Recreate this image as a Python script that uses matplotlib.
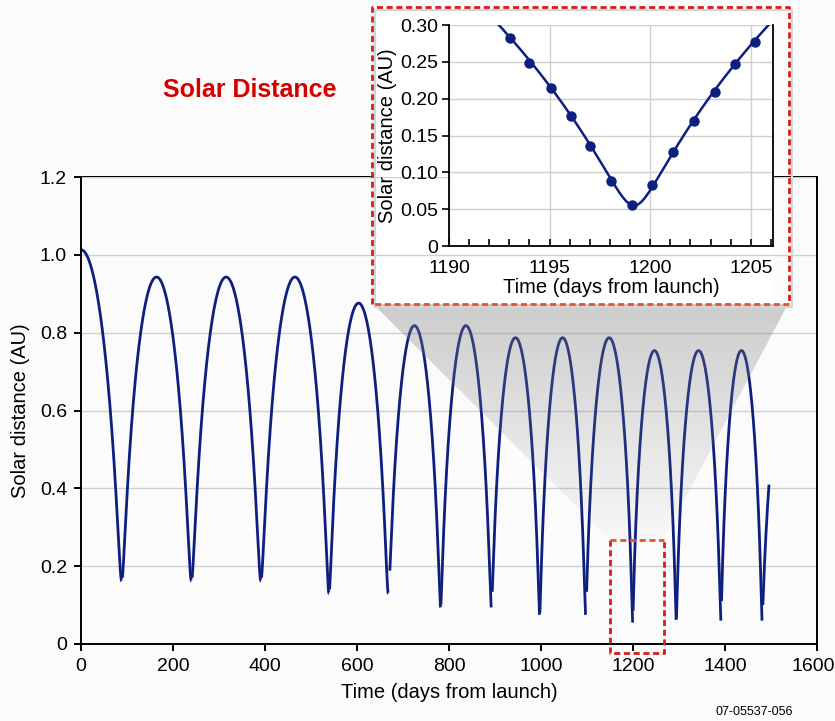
"""Solar distance vs time from launch, with a zoomed inset around day 1200."""

import matplotlib

matplotlib.use("Agg")
import matplotlib.pyplot as plt
import numpy as np
from matplotlib.patches import Polygon, Rectangle
from matplotlib.transforms import Affine2D, ScaledTranslation

plt.rcParams["font.family"] = ["Liberation Sans", "DejaVu Sans"]

# ---- data ------------------------------------------------------------------
launch_au = 1.013                      # distance at day 0 (aphelion-like start)
peri_days = [88.4, 240, 391, 539, 668, 781.6, 892, 997, 1097, 1199.2, 1294, 1391, 1480.5]
peri_au = [0.162, 0.162, 0.162, 0.130, 0.130, 0.094, 0.094, 0.075, 0.075, 0.055, 0.062, 0.060, 0.060]
restart_au = [0.17, 0.17, 0.17, 0.14, 0.188, 0.10, 0.134, 0.08, 0.134, 0.085, 0.065, 0.11, 0.10]
apo_au = [0.943, 0.943, 0.943, 0.876, 0.818, 0.818, 0.787, 0.787, 0.787, 0.754, 0.754, 0.754, 0.754]
end_day, end_au = 1495.7, 0.41

inset_days = [1193.05, 1194.0, 1195.05, 1196.05, 1197.0, 1198.05, 1199.1,
              1200.1, 1201.15, 1202.15, 1203.2, 1204.2, 1205.2]
inset_au = [0.283, 0.249, 0.215, 0.177, 0.136, 0.088, 0.055,
            0.083, 0.128, 0.170, 0.209, 0.247, 0.277]

main_yticks = [0, 0.2, 0.4, 0.6, 0.8, 1.0, 1.2]
main_ylabels = ["0", "0.2", "0.4", "0.6", "0.8", "1.0", "1.2"]
inset_yticks = [0, 0.05, 0.10, 0.15, 0.20, 0.25, 0.30]
inset_ylabels = ["0", "0.05", "0.10", "0.15", "0.20", "0.25", "0.30"]

NAVY = "#0f1f7e"
RED = "#d81c1c"
ORANGE = "#e2532f"
GRID = "#cfcfcf"

W, H = 835, 721


def half_orbit(q, Q, e_anom):
    """Keplerian r and mean-anomaly fraction for eccentric anomaly values."""
    a = (Q + q) / 2
    e = (Q - q) / (Q + q)
    r = a * (1 - e * np.cos(e_anom))
    frac = (e_anom - e * np.sin(e_anom)) / (2 * np.pi)
    return frac, r


def lobe(t0, t1, q0, Q, q1, n=1500):
    """One orbit between two perihelia: rise from q0 to Q, fall to q1."""
    f1, r1 = half_orbit(q0, Q, np.linspace(0, np.pi, n))
    f2, r2 = half_orbit(q1, Q, np.linspace(np.pi, 2 * np.pi, n)[1:])
    frac = np.concatenate([f1, f2])
    r = np.concatenate([r1, r2])
    return t0 + frac * (t1 - t0), r


# ---- build the main curve as separate branches -----------------------------
branches = []
f, r = half_orbit(peri_au[0], launch_au, np.linspace(np.pi, 2 * np.pi, 1500))
branches.append(((f - 0.5) / 0.5 * peri_days[0], r))
for i in range(len(peri_days) - 1):
    t, r = lobe(peri_days[i], peri_days[i + 1], peri_au[i], apo_au[i], peri_au[i + 1])
    # the rising branch starts a little above the true minimum (coarse sampling)
    start = np.argmax((r >= restart_au[i]) & (t > peri_days[i]))
    branches.append((t[start:], r[start:]))
# final partial rise, scaled so it ends at the last plotted point
f, r = half_orbit(peri_au[-1], apo_au[-1], np.linspace(0, np.pi, 1500))
f_end = np.interp(end_au, r, f)
keep = f <= f_end
t = peri_days[-1] + f[keep] / f_end * (end_day - peri_days[-1])
r = r[keep]
start = np.argmax(r >= restart_au[-1])
branches.append((t[start:], r[start:]))

# ---- figure -----------------------------------------------------------------
fig = plt.figure(figsize=(W / 100, H / 100), dpi=100, facecolor="#fbfbfb")


def px_rect(left, top, right, bottom):
    return [left / W, 1 - bottom / H, (right - left) / W, (bottom - top) / H]


px_to_disp = Affine2D().scale(1, -1).translate(0, H)

ax = fig.add_axes(px_rect(81, 177, 817, 644))
ax.set_facecolor("#fbfbfb")
for t, r in branches:
    ax.plot(t, r, color=NAVY, lw=2.0, zorder=2, solid_capstyle="butt")

ax.set_xlim(0, 1600)
ax.set_ylim(0, 1.2)
ax.set_xticks(range(0, 1601, 200))
ax.set_yticks(main_yticks)
ax.set_yticklabels(main_ylabels)
ax.tick_params(labelsize=14, length=5, width=1.4, direction="out", pad=5)
ax.yaxis.grid(True, color=GRID, lw=1.0)
for s in ("left", "bottom", "right"):
    ax.spines[s].set_linewidth(1.4)
ax.spines["top"].set_visible(False)
ax.set_xlabel("Time (days from launch)", fontsize=14.5, labelpad=6)
ax.set_ylabel("Solar distance (AU)", fontsize=14.5, labelpad=7)
# keep the last x label inside the canvas
last = ax.get_xticklabels()[-1]
last.set_transform(last.get_transform() + ScaledTranslation(-0.04, 0, fig.dpi_scale_trans))

# top border of the plot box, partly hidden by the inset frame
ax.plot([0, 1600], [1.2, 1.2], color="black", lw=1.4, clip_on=False, zorder=1.1)
ax.add_patch(Rectangle((372, 7), 773 - 372, 297, transform=px_to_disp,
                       facecolor="white", edgecolor="none", clip_on=False, zorder=1.2))

# zoom box around the perihelion near day 1200
zb_x0, zb_x1, zb_y0, zb_y1 = 1149, 1267, -0.023, 0.267
ax.plot([zb_x0, zb_x0, zb_x1, zb_x1], [zb_y1, zb_y0, zb_y0, zb_y1], color=RED,
        lw=2.0, ls=(0, (2.2, 1.3)), clip_on=False, zorder=5)
ax.plot([zb_x0, zb_x1], [zb_y1, zb_y1], color=ORANGE, lw=2.0,
        ls=(0, (2.2, 1.3)), clip_on=False, zorder=5)

# grey funnel from zoom box up to the inset frame (drawn over the curve)
to_data = ax.transData.inverted()
top_l = to_data.transform(px_to_disp.transform((373, 304)))
top_r = to_data.transform(px_to_disp.transform((788, 304)))
funnel = Polygon([top_l, top_r, (zb_x1 - 2, zb_y1), (zb_x0 + 2, zb_y1)],
                 closed=True, transform=ax.transData, facecolor="none", edgecolor="none")
ax.add_patch(funnel)
grad = np.zeros((256, 2, 4))
grad[..., :3] = 0.50
grad[..., 3] = np.linspace(0.03, 0.38, 256)[:, None]
img = ax.imshow(grad, extent=[top_l[0], top_r[0], zb_y1, top_l[1]], origin="lower",
                aspect="auto", zorder=3, interpolation="bilinear")
img.set_clip_path(funnel)
ax.set_xlim(0, 1600)
ax.set_ylim(0, 1.2)

# inset frame
ax.add_patch(Rectangle((375, 10), 789 - 372, 304 - 7, transform=px_to_disp,
                       facecolor="none", edgecolor="#d4d4d4", lw=1.5,
                       clip_on=False, zorder=4))
fx = [372, 372, 789, 789, 372]
fy = [304, 7, 7, 304, 304]
ax.plot(fx[:4], fy[:4], color=RED, lw=2.0, ls=(0, (2.2, 1.3)),
        transform=px_to_disp, clip_on=False, zorder=6)
ax.plot([789, 372], [304, 304], color=ORANGE, lw=2.0, ls=(0, (2.2, 1.3)),
        transform=px_to_disp, clip_on=False, zorder=6)

# ---- inset ------------------------------------------------------------------
axi = fig.add_axes(px_rect(449, 25, 773, 246))
axi.set_facecolor("white")
i = peri_days.index(1199.2)
t, r = lobe(peri_days[i - 1], peri_days[i], peri_au[i - 1], apo_au[i - 1], peri_au[i])
t2, r2 = lobe(peri_days[i], peri_days[i + 1], peri_au[i], apo_au[i], peri_au[i + 1])
axi.plot(np.concatenate([t, t2]), np.concatenate([r, r2]), color=NAVY, lw=1.8, zorder=3)
axi.plot(inset_days, inset_au, "o", color=NAVY, ms=6.5, zorder=4)
axi.set_xlim(1190, 1206.1)
axi.set_ylim(0, 0.30)
axi.set_xticks([1190, 1195, 1200, 1205])
axi.set_xticks(np.arange(1191, 1207, 1), minor=True)
axi.set_yticks(inset_yticks)
axi.set_yticklabels(inset_ylabels)
axi.tick_params(axis="x", which="both", direction="in", length=5, width=1.2,
                labelsize=14, pad=10)
axi.tick_params(axis="y", direction="out", length=5, width=1.2, labelsize=14, pad=3)
axi.grid(True, which="major", color=GRID, lw=1.0)
axi.set_axisbelow(True)
axi.spines["top"].set_visible(False)
for s in ("left", "bottom", "right"):
    axi.spines[s].set_linewidth(1.3)
axi.set_xlabel("Time (days from launch)", fontsize=14.5, labelpad=1)
axi.set_ylabel("Solar distance (AU)", fontsize=14.5, labelpad=2)

# ---- texts ------------------------------------------------------------------
fig.text(250 / W, 1 - 90 / H, "Solar Distance", color="#d40000", fontsize=18,
         fontweight="bold", ha="center", va="center")
fig.text(754 / W, 1 - 712 / H, "07-05537-056", fontsize=9, ha="center", va="center")

fig.savefig("out.png", dpi=100, facecolor=fig.get_facecolor())
